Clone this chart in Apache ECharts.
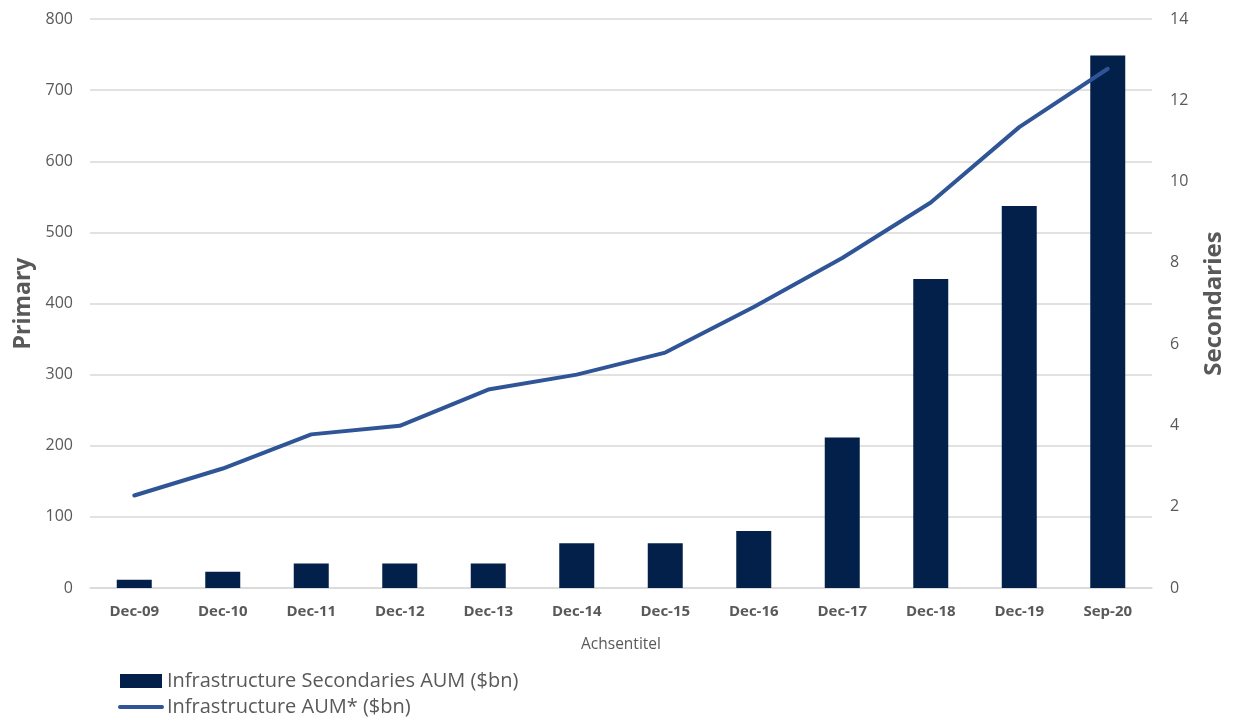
<!DOCTYPE html>
<html>
<head>
<meta charset="utf-8">
<script src="https://cdn.jsdelivr.net/npm/echarts@6/dist/echarts.min.js"></script>
<style>
  html, body { margin: 0; padding: 0; background: #fff; }
  #chart { width: 1234px; height: 717px; }
</style>
</head>
<body>
<div id="chart"></div>
<script>
// Period labels along the category axis
const periods = ['Dec-09', 'Dec-10', 'Dec-11', 'Dec-12', 'Dec-13', 'Dec-14',
                 'Dec-15', 'Dec-16', 'Dec-17', 'Dec-18', 'Dec-19', 'Sep-20'];

// Infrastructure Secondaries AUM ($bn) – right axis
const secondariesAum = [0.2, 0.4, 0.6, 0.6, 0.6, 1.1, 1.1, 1.4, 3.7, 7.6, 9.4, 13.1];

// Infrastructure AUM* ($bn) – left axis
const totalAum = [130, 168, 216, 228, 279, 300, 331, 395, 464, 542, 648, 730];

const seriesNames = ['Infrastructure Secondaries AUM ($bn)', 'Infrastructure AUM* ($bn)'];
const axisNames = { x: 'Achsentitel', left: 'Primary', right: 'Secondaries' };

const FONT = '"Open Sans", Lato, sans-serif';
const GREY = '#595959';
const LINE_BLUE = '#2f5597';
const BAR_NAVY = '#02204a';
const GRID_LINE = { lineStyle: { color: '#d9d9d9', width: 1.5 } };

const chart = echarts.init(document.getElementById('chart'), null, { renderer: 'canvas' });

chart.setOption({
  animation: false,
  textStyle: { fontFamily: FONT },
  grid: { left: 90, right: 81, top: 19, bottom: 129, containLabel: false },
  legend: {
    orient: 'vertical',
    left: 118,
    top: 671,
    height: 60,
    padding: 0,
    itemWidth: 42,
    itemHeight: 14,
    itemGap: 6,
    textStyle: { fontFamily: FONT, fontSize: 20, color: GREY },
    data: [
      { name: seriesNames[0], icon: 'rect' },
      { name: seriesNames[1], itemStyle: { opacity: 0 }, lineStyle: { width: 4, color: LINE_BLUE, cap: 'round' } }
    ]
  },
  xAxis: {
    type: 'category',
    data: periods,
    name: axisNames.x,
    nameLocation: 'middle',
    nameGap: 49,
    nameTextStyle: { fontFamily: FONT, fontSize: 15.5, color: GREY },
    axisLine: { show: true, lineStyle: { color: '#d9d9d9', width: 1.5 } },
    axisTick: { show: false },
    axisLabel: { fontFamily: FONT, fontSize: 15, fontWeight: 'bold', color: GREY, margin: 16 }
  },
  yAxis: [
    {
      type: 'value',
      min: 0, max: 800, interval: 100,
      position: 'left',
      name: axisNames.left,
      nameLocation: 'middle',
      nameRotate: 90,
      nameGap: 54,
      nameTextStyle: { fontFamily: FONT, fontSize: 23, fontWeight: 'bold', color: GREY },
      axisLine: { show: false },
      axisTick: { show: false },
      axisLabel: { fontFamily: FONT, fontSize: 16, color: GREY, margin: 17 },
      splitLine: GRID_LINE
    },
    {
      type: 'value',
      min: 0, max: 14, interval: 2,
      position: 'right',
      name: axisNames.right,
      nameLocation: 'middle',
      nameRotate: 90,
      nameGap: 50,
      nameTextStyle: { fontFamily: FONT, fontSize: 24, fontWeight: 'bold', color: GREY },
      axisLine: { show: false },
      axisTick: { show: false },
      axisLabel: { fontFamily: FONT, fontSize: 16, color: GREY, margin: 18 },
      splitLine: { show: false }
    }
  ],
  series: [
    {
      name: seriesNames[0],
      type: 'bar',
      yAxisIndex: 1,
      data: secondariesAum,
      barWidth: 35,
      itemStyle: { color: BAR_NAVY }
    },
    {
      name: seriesNames[1],
      type: 'line',
      yAxisIndex: 0,
      data: totalAum,
      symbol: 'none',
      lineStyle: { color: LINE_BLUE, width: 4, cap: 'round' },
      itemStyle: { color: LINE_BLUE }
    }
  ]
});
</script>
</body>
</html>
